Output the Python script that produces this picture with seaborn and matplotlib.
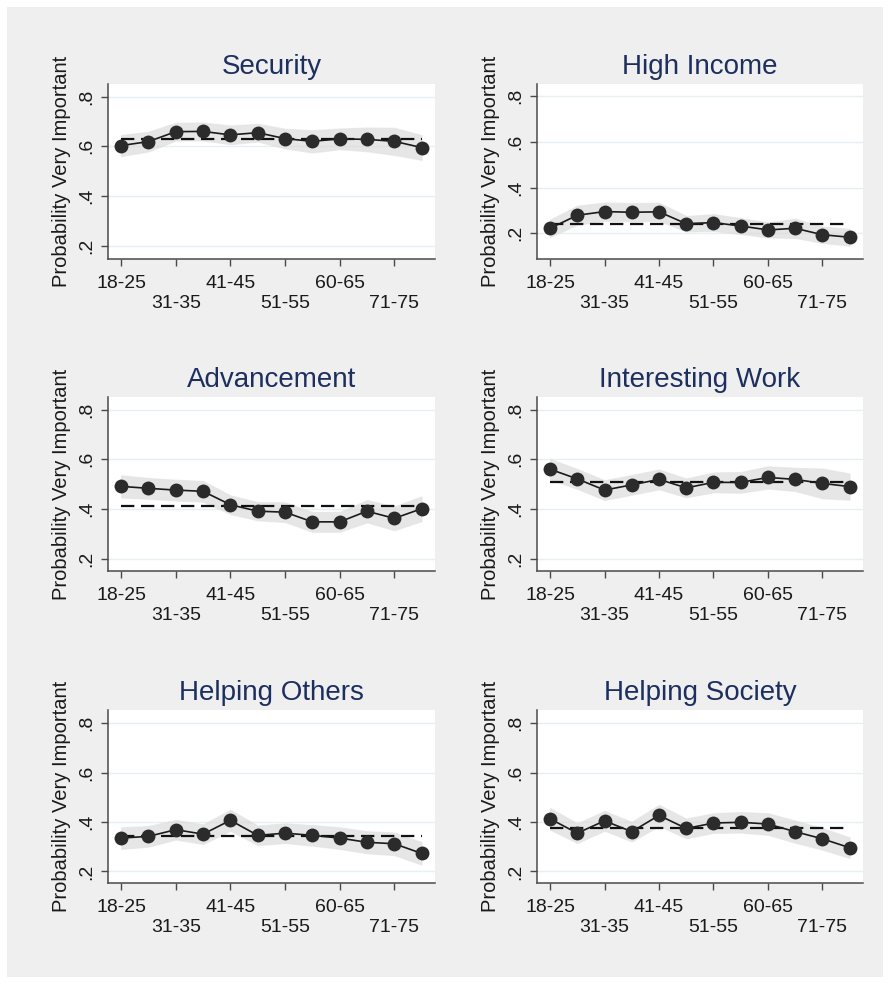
import numpy as np
import pandas as pd
import matplotlib
matplotlib.use("Agg")
import matplotlib.pyplot as plt
import seaborn as sns
from matplotlib.patches import Rectangle

# ---------------- data ----------------
x_pos = list(range(1, 13))
tick_pos_upper = [1, 5, 9]
tick_lab_upper = ["18-25", "41-45", "60-65"]
tick_pos_lower = [3, 7, 11]
tick_lab_lower = ["31-35", "51-55", "71-75"]

titles = ["Security", "High Income", "Advancement",
          "Interesting Work", "Helping Others", "Helping Society"]

security = [.603, .619, .659, .660, .646, .655, .631, .620, .630, .628, .620, .595]
security_hw = [.043, .040, .036, .036, .038, .036, .040, .045, .042, .048, .055, .050]
security_mean = .631

income = [.222, .279, .295, .292, .294, .242, .247, .232, .215, .222, .194, .183]
income_hw = [.038, .042, .040, .040, .040, .034, .037, .035, .033, .042, .036, .037]
income_mean = .241

advancement = [.491, .483, .476, .471, .417, .391, .387, .348, .348, .391, .362, .401]
advancement_hw = [.045, .042, .042, .042, .038, .037, .040, .040, .040, .045, .048, .050]
advancement_mean = .413

interesting = [.560, .521, .476, .497, .519, .485, .507, .507, .527, .519, .503, .490]
interesting_hw = [.042, .040, .040, .040, .040, .038, .040, .042, .045, .047, .060, .053]
interesting_mean = .508

others = [.335, .342, .369, .351, .407, .346, .355, .346, .335, .318, .312, .273]
others_hw = [.044, .042, .040, .040, .043, .040, .040, .042, .044, .045, .046, .046]
others_mean = .342

society = [.413, .355, .405, .361, .427, .374, .396, .399, .392, .361, .332, .296]
society_hw = [.044, .040, .040, .040, .043, .040, .040, .042, .044, .045, .044, .042]
society_mean = .377

series = [security, income, advancement, interesting, others, society]
halfw = [security_hw, income_hw, advancement_hw, interesting_hw, others_hw, society_hw]
means = [security_mean, income_mean, advancement_mean, interesting_mean, others_mean, society_mean]

y_ticks = [.2, .4, .6, .8]
y_tick_labels = [".2", ".4", ".6", ".8"]
ylims = [(0.146, 0.851), (0.088, 0.852), (0.150, 0.851),
         (0.150, 0.851), (0.153, 0.854), (0.153, 0.854)]

# ---------------- style ----------------
sns.set_theme(style="white")
plt.rcParams['font.family'] = ['Liberation Sans', 'DejaVu Sans']

W, H = 890, 984
fig = plt.figure(figsize=(W / 100, H / 100), dpi=100)
fig.patch.set_facecolor("white")
fig.patches.append(Rectangle((7 / W, 7 / H), (883 - 7) / W, (977 - 7) / H,
                             transform=fig.transFigure, facecolor="#efefef",
                             edgecolor="none", zorder=-10))

cols = [(108, 435), (537, 863)]
rows = [(84, 259), (397, 571), (710, 883)]

title_color = "#1c2f5e"
axis_color = "#4a4a4a"
text_color = "#1a1a1a"

for i in range(6):
    r, c = divmod(i, 2)
    l, rr = cols[c]
    t, b = rows[r]
    ax = fig.add_axes([l / W, 1 - b / H, (rr - l) / W, (b - t) / H])
    ax.set_facecolor("white")

    df = pd.DataFrame({"x": x_pos, "y": series[i]})
    lo = np.array(series[i]) - np.array(halfw[i])
    hi = np.array(series[i]) + np.array(halfw[i])
    ax.fill_between(df["x"], lo, hi, color="#d6d6d6", alpha=0.6,
                    linewidth=0.8, edgecolor="#e2e2e2", zorder=1)
    for yt in y_ticks:
        ax.axhline(yt, color="#e6eff2", lw=1.0, zorder=0)
    ax.hlines(means[i], x_pos[0], x_pos[-1], colors="#111111",
              linestyles=(0, (6.0, 3.0)), lw=1.6, zorder=2)
    sns.lineplot(data=df, x="x", y="y", ax=ax, color="#1a1a1a", lw=1.2,
                 marker="o", markersize=10, markeredgewidth=0,
                 markerfacecolor="#2b2b2b", zorder=3)

    ax.set_xlim(0.52, 12.49)
    ax.set_ylim(*ylims[i])
    ax.set_yticks(y_ticks)
    ax.set_yticklabels(y_tick_labels, rotation=90, va="center")
    ax.set_xticks(tick_pos_upper)
    ax.set_xticklabels(tick_lab_upper)
    ax.set_xticks(tick_pos_lower, minor=True)
    ax.set_xticklabels(tick_lab_lower, minor=True)

    for s in ["top", "right"]:
        ax.spines[s].set_visible(False)
    for s in ["left", "bottom"]:
        ax.spines[s].set_color(axis_color)
        ax.spines[s].set_linewidth(1.1)

    ax.tick_params(axis="x", which="major", length=5, width=1, color=axis_color,
                   pad=6.5, labelsize=14, labelcolor=text_color, bottom=True)
    ax.tick_params(axis="x", which="minor", length=5, width=1, color=axis_color,
                   pad=21, labelsize=14, labelcolor=text_color, bottom=True)
    ax.tick_params(axis="y", length=5, width=1, color=axis_color,
                   pad=4.5, labelsize=14, labelcolor=text_color, left=True)

    ax.set_xlabel("")
    ax.set_ylabel("Probability Very Important", fontsize=14.5, color=text_color)
    ax.yaxis.set_label_coords(-0.114, 0.5)
    ax.set_title(titles[i], fontsize=20, color=title_color, pad=7.5)

fig.savefig("out.png", dpi=100, facecolor=fig.get_facecolor())
